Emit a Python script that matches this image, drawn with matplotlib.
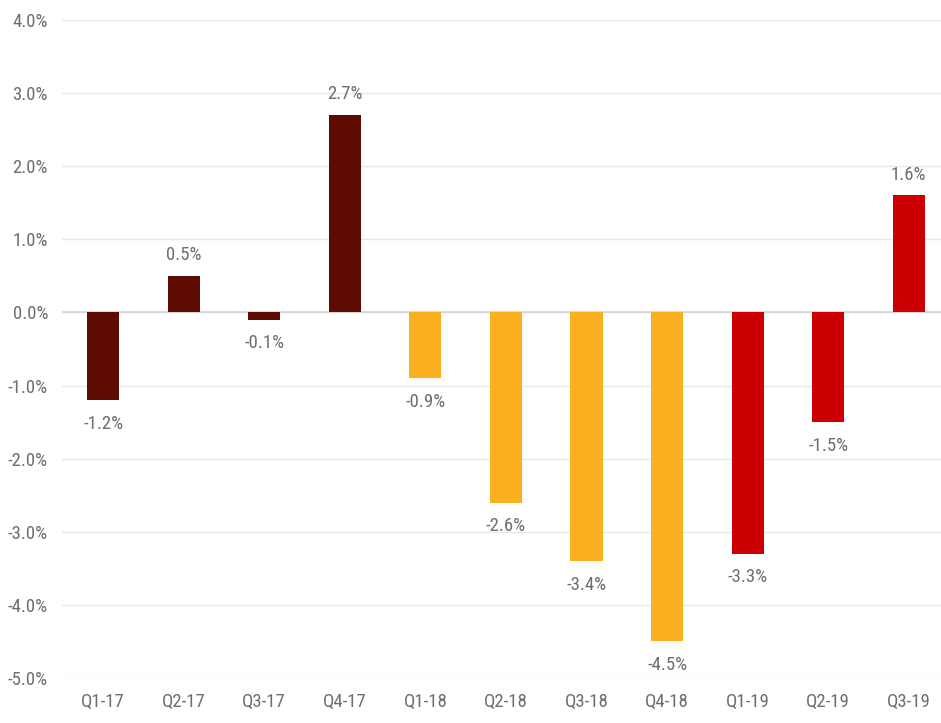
import matplotlib
matplotlib.use("Agg")
import matplotlib.pyplot as plt
from matplotlib.ticker import FuncFormatter

quarters = ["Q1-17", "Q2-17", "Q3-17", "Q4-17", "Q1-18", "Q2-18", "Q3-18",
            "Q4-18", "Q1-19", "Q2-19", "Q3-19"]
growth = [-1.2, 0.5, -0.1, 2.7, -0.9, -2.6, -3.4, -4.5, -3.3, -1.5, 1.6]
years = ["17", "17", "17", "17", "18", "18", "18", "18", "19", "19", "19"]
year_colors = {"17": "#5e0b02", "18": "#fbb11f", "19": "#cc0003"}
y_ticks = [4, 3, 2, 1, 0, -1, -2, -3, -4, -5]

plt.rcParams["font.family"] = ["Roboto Condensed", "Liberation Sans", "DejaVu Sans"]
text_color = "#6e6e6e"

fig = plt.figure(figsize=(9.41, 7.23), dpi=100)
ax = fig.add_axes([62 / 941, 1 - 678 / 723, 1 - 62 / 941, (678 - 20) / 723])

x = list(range(len(quarters)))
colors = [year_colors[y] for y in years]
ax.bar(x, growth, width=0.4, color=colors, zorder=3)

# value labels above positive bars, below negative ones
for xi, v in zip(x, growth):
    offset = 15 if v >= 0 else -17
    ax.annotate(f"{v:.1f}%", xy=(xi, v), xytext=(0, offset), textcoords="offset points",
                ha="center", va="center", fontsize=13.5, color=text_color)

ax.set_ylim(-5, 4)
ax.set_xlim(-0.51, 10.4)
ax.set_yticks(y_ticks)
ax.yaxis.set_major_formatter(FuncFormatter(lambda v, p: f"{v:.1f}%"))
ax.set_xticks(x)
ax.set_xticklabels(quarters)
ax.tick_params(axis="both", length=0, labelsize=13.5, labelcolor=text_color)
ax.tick_params(axis="x", pad=11)
ax.tick_params(axis="y", pad=10)
ax.grid(axis="y", color="#e8e8e8", linewidth=1, zorder=0)
ax.axhline(0, color="#d4d4d4", linewidth=1.2, zorder=2)
for s in ax.spines.values():
    s.set_visible(False)

fig.savefig("out.png", dpi=100)
